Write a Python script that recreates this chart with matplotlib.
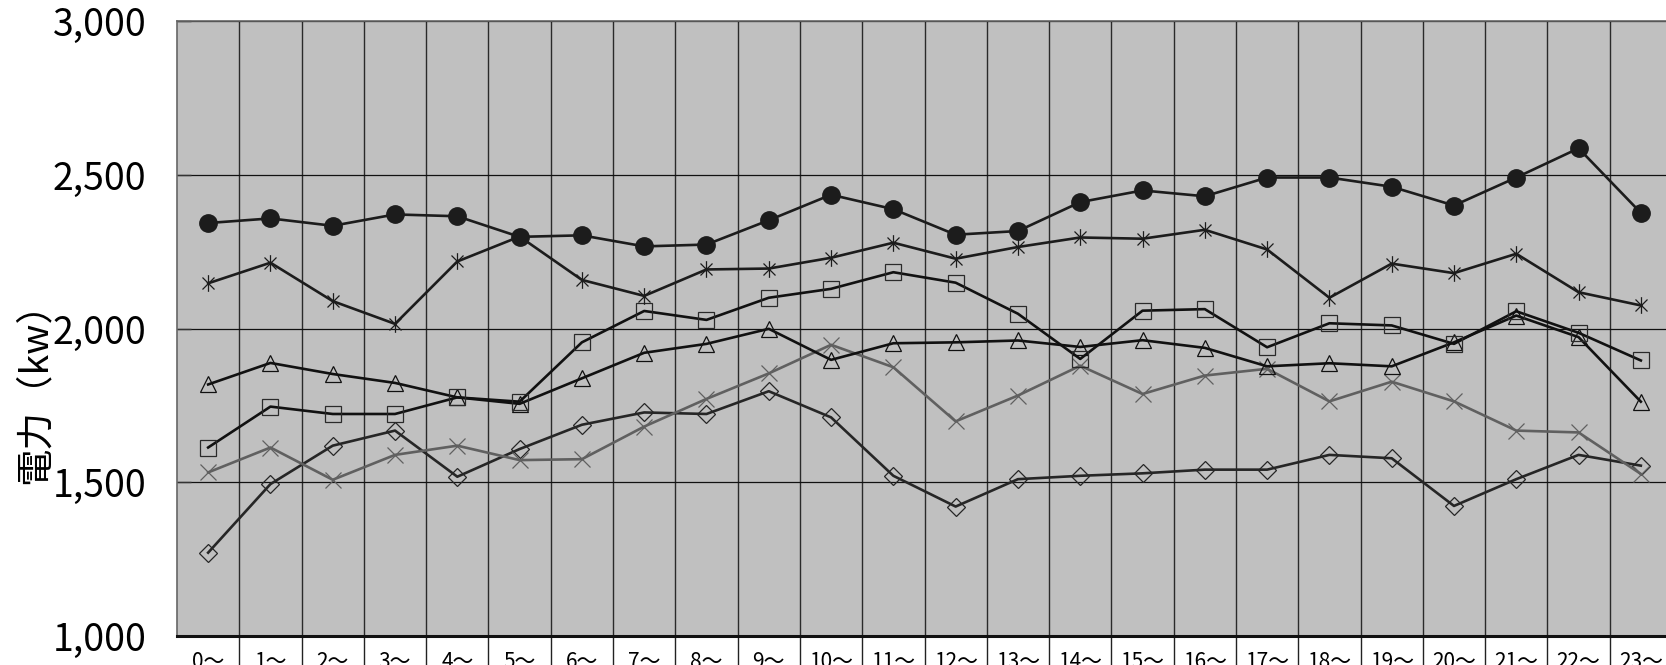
import matplotlib
matplotlib.use("Agg")
import matplotlib.pyplot as plt
from matplotlib.path import Path
from matplotlib.ticker import FixedLocator, FuncFormatter

plt.rcParams['font.family'] = ['Noto Sans CJK JP', 'DejaVu Sans']

# hours 0..23
hours = list(range(24))
hour_labels = [f"{h}～" for h in hours]

# series (kW)
circle_vals = [2343, 2358, 2334, 2371, 2365, 2298, 2303, 2267, 2273, 2352, 2435, 2388,
               2305, 2317, 2411, 2449, 2430, 2491, 2491, 2461, 2400, 2491, 2586, 2376]
star_vals = [2147, 2214, 2089, 2015, 2218, 2299, 2158, 2106, 2192, 2195, 2230, 2279,
             2227, 2265, 2296, 2292, 2321, 2257, 2100, 2211, 2180, 2243, 2118, 2075]
square_vals = [1613, 1746, 1722, 1722, 1776, 1762, 1955, 2057, 2028, 2100, 2129, 2183,
               2149, 2048, 1901, 2058, 2063, 1939, 2017, 2010, 1950, 2056, 1986, 1896]
triangle_vals = [1818, 1888, 1852, 1823, 1776, 1755, 1838, 1921, 1950, 1999, 1898, 1952,
                 1955, 1961, 1940, 1962, 1937, 1877, 1887, 1877, 1955, 2042, 1972, 1762]
cross_vals = [1532, 1613, 1508, 1589, 1619, 1572, 1575, 1681, 1771, 1854, 1947, 1874,
              1698, 1782, 1879, 1787, 1847, 1869, 1763, 1827, 1763, 1668, 1662, 1527]
diamond_vals = [1271, 1494, 1619, 1668, 1518, 1608, 1687, 1727, 1722, 1796, 1711, 1521,
                1421, 1510, 1521, 1529, 1541, 1541, 1589, 1578, 1423, 1510, 1589, 1554]

# Excel-style star: vertical bar plus an X
star = Path([(0, -1), (0, 1), (-0.72, -0.72), (0.72, 0.72), (-0.72, 0.72), (0.72, -0.72)],
            [Path.MOVETO, Path.LINETO, Path.MOVETO, Path.LINETO, Path.MOVETO, Path.LINETO])

fig = plt.figure(figsize=(16.66, 6.65), dpi=100)
ax = fig.add_axes([177 / 1666, 1 - 636 / 665, 1495 / 1666, 615 / 665])
ax.set_facecolor('#c0c0c0')

dark = '#1c1c1c'
lw = 1.9

ax.plot(hours, diamond_vals, color='#262626', lw=lw, marker='D', ms=9.5,
        mfc='none', mec='#262626', mew=0.9, zorder=3)
ax.plot(hours, cross_vals, color='#606060', lw=lw, marker='x', ms=12,
        mec='#606060', mew=0.9, zorder=3)
ax.plot(hours, triangle_vals, color='#111111', lw=lw, marker='^', ms=12,
        mfc='none', mec='#111111', mew=0.9, zorder=3)
ax.plot(hours, square_vals, color='#111111', lw=lw, marker='s', ms=11.5,
        mfc='none', mec='#2a2a2a', mew=0.9, zorder=3)
ax.plot(hours, star_vals, color=dark, lw=lw, marker=star, ms=12,
        mfc='none', mec=dark, mew=0.9, zorder=3)
ax.plot(hours, circle_vals, color=dark, lw=lw, marker='o', ms=12.5,
        mfc=dark, mec=dark, zorder=4)

ax.set_xlim(-0.5, 23.5)
ax.set_ylim(1000, 3000)

# y axis
ax.set_yticks([1000, 1500, 2000, 2500, 3000])
ax.yaxis.set_major_formatter(FuncFormatter(lambda v, p: f"{int(v):,}"))
ax.tick_params(axis='y', direction='in', length=10, width=1, color='#333333',
               labelsize=27, pad=22)
ax.yaxis.grid(True, color='#111111', lw=0.9)
ax.set_ylabel('電力（kw）', fontsize=27)
ax.yaxis.set_label_coords(-0.082, 0.41)

# x axis: category labels with separators between them
ax.set_xticks(hours)
ax.set_xticklabels(hour_labels)
ax.tick_params(axis='x', which='major', length=0, labelsize=15, pad=11)
ax.xaxis.set_minor_locator(FixedLocator([h - 0.5 for h in range(1, 24)]))
ax.tick_params(axis='x', which='minor', direction='out', length=40, width=1,
               color='#222222')
ax.xaxis.grid(True, which='minor', color='#2a2a2a', lw=1)
ax.set_axisbelow(True)

for s in ['top', 'left', 'right']:
    ax.spines[s].set_color('#666666')
    ax.spines[s].set_linewidth(1.2)
ax.spines['bottom'].set_color('#111111')
ax.spines['bottom'].set_linewidth(2.2)

fig.savefig('out.png', dpi=100)
